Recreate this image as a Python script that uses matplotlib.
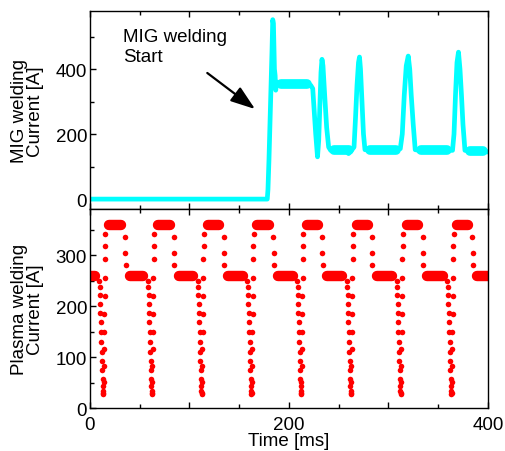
import matplotlib
matplotlib.use("Agg")
import matplotlib.pyplot as plt
from matplotlib.ticker import MultipleLocator, FuncFormatter

plt.rcParams["font.family"] = ["Liberation Sans", "DejaVu Sans"]
plt.rcParams["font.size"] = 13.5

CYAN = "#00ffff"
RED = "#ff0000"

# ── MIG welding current: trace vertices (ms, A) ───────────────────────────
mig_t = [0, 178.3, 179.0, 180.0, 181.0, 182.0, 183.0, 183.8, 184.5, 185.0,
         185.5, 186.2, 186.8, 187.5, 192, 198, 204, 210, 216, 222, 224.0,
         225.5, 227.0, 228.8, 230.0, 231.2, 232.3, 233.3, 234.3, 236.0,
         238.0, 240.0, 242, 250, 256, 260, 263, 265.5, 267.0, 268.5, 270.0,
         271.0, 272.0, 273.5, 275.0, 276.5, 285, 295, 305, 312, 314.0, 316.0,
         318.0, 320.0, 321.5, 323.0, 325.0, 327.0, 335, 345, 355, 364.5,
         366.0, 367.5, 369.0, 370.5, 372.0, 373.5, 375.0, 377.0, 385, 392, 400]
mig_i = [0, 0, 30, 120, 230, 340, 450, 552, 540, 470,
         400, 380, 335, 360, 356, 350, 355, 352, 356, 350, 340,
         270, 200, 130, 180, 290, 390, 430, 410, 320,
         220, 160, 150, 148, 152, 140, 150, 160, 250, 350, 420,
         437, 400, 300, 200, 152, 150, 148, 152, 155, 200, 320,
         410, 440, 400, 320, 230, 152, 148, 146, 150, 150,
         200, 320, 420, 452, 400, 320, 230, 150, 146, 148, 145]

# dense, noisy plateaus of the MIG trace (start ms, end ms, level A)
mig_plateau_start = [187.5, 241, 277, 328, 377]
mig_plateau_end = [223.5, 265, 312, 364, 400]
mig_plateau_level = [354, 150, 150, 150, 147]

# ── Plasma welding current: pulse timing (ms) and levels (A) ──────────────
plasma_rise_t = [14, 63, 113, 163, 213, 263, 313, 364]
plasma_fall_t = [35, 84, 134, 184, 233, 283, 334, 384]
plasma_low = 259
plasma_high = 358

# sparse samples on each edge, offsets relative to rise / fall time
drop_dt = [-4.6, -4.3, -4.0, -3.7, -3.4, -3.1, -2.8, -2.5, -2.2, -1.9,
           -1.6, -1.3, -1.1, -0.9, -0.7]
drop_i = [250, 238, 222, 205, 186, 168, 150, 130, 110, 92, 74, 57, 44, 33, 27]
rise_dt = [-0.5, -0.3, -0.1, 0.1, 0.3, 0.5, 0.7, 0.9, 1.1, 1.3, 1.5]
rise_i = [30, 52, 82, 115, 150, 185, 220, 255, 292, 318, 342]
fall_dt = [0.4, 0.6, 0.9]
fall_i = [335, 305, 280]

# round caps of the thick plateau strokes reach ~5 ms past their end points
CAP = 4.8

fig = plt.figure(figsize=(5.05, 4.52), dpi=100)
ax1 = fig.add_axes([0.178, 0.535, 0.788, 0.438])
ax2 = fig.add_axes([0.178, 0.095, 0.788, 0.440])

# ── MIG panel ─────────────────────────────────────────────────────────────
ax1.plot(mig_t, mig_i, color=CYAN, lw=3.4, solid_joinstyle="round",
         solid_capstyle="round")
for t0, t1, lev in zip(mig_plateau_start, mig_plateau_end, mig_plateau_level):
    ax1.plot([t0 + CAP, t1 - CAP], [lev, lev], color=CYAN, lw=7,
             solid_capstyle="round")

ax1.text(33, 526, "MIG welding\nStart", ha="left", va="top", linespacing=1.25)
ax1.annotate("", xy=(166, 277), xytext=(118, 388),
             arrowprops=dict(arrowstyle="-|>,head_length=1.0,head_width=0.35",
                             color="black", lw=1.6, mutation_scale=15,
                             shrinkA=0, shrinkB=0))

ax1.set_xlim(0, 400)
ax1.set_ylim(-31, 578)
ax1.yaxis.set_major_locator(MultipleLocator(200))
ax1.yaxis.set_minor_locator(MultipleLocator(100))
ax1.set_ylabel("MIG welding\nCurrent [A]", linespacing=0.9)

# ── Plasma panel ──────────────────────────────────────────────────────────
seg_start = [-10] + [f + 0.5 + CAP for f in plasma_fall_t]
seg_end = [r - 4.4 - CAP for r in plasma_rise_t] + [410]
for t0, t1 in zip(seg_start, seg_end):
    ax2.plot([t0, t1], [plasma_low, plasma_low], color=RED, lw=7.5,
             solid_capstyle="round")
for r, f in zip(plasma_rise_t, plasma_fall_t):
    ax2.plot([r + 0.5 + CAP, f + 1 - CAP], [plasma_high, plasma_high],
             color=RED, lw=7.5, solid_capstyle="round")
    ax2.plot([r + d for d in drop_dt], drop_i, "o", color=RED, ms=4, mec="none")
    ax2.plot([r + d for d in rise_dt], rise_i, "o", color=RED, ms=4, mec="none")
    ax2.plot([f + d for d in fall_dt], fall_i, "o", color=RED, ms=4, mec="none")

ax2.set_xlim(0, 400)
ax2.set_ylim(0, 390)
ax2.yaxis.set_major_locator(MultipleLocator(100))
ax2.yaxis.set_minor_locator(MultipleLocator(50))
ax2.set_ylabel("Plasma welding\nCurrent [A]", linespacing=0.9)
ax2.set_xlabel("Time [ms]", labelpad=-1)

for ax in (ax1, ax2):
    ax.xaxis.set_major_locator(MultipleLocator(100))
    ax.xaxis.set_minor_locator(MultipleLocator(50))
    ax.tick_params(which="both", direction="in", top=True, right=False,
                   width=1, pad=2)
    ax.tick_params(which="major", length=4.5)
    ax.tick_params(which="minor", length=2.8)
    ax.yaxis.set_label_coords(-0.115, 0.5)
    for s in ax.spines.values():
        s.set_linewidth(1.0)

ax1.tick_params(axis="x", labelbottom=False)
ax2.tick_params(axis="x", pad=6)
ax2.xaxis.set_major_formatter(
    FuncFormatter(lambda v, p: f"{v:.0f}" if v % 200 == 0 else ""))

fig.savefig("out.png", dpi=100)
